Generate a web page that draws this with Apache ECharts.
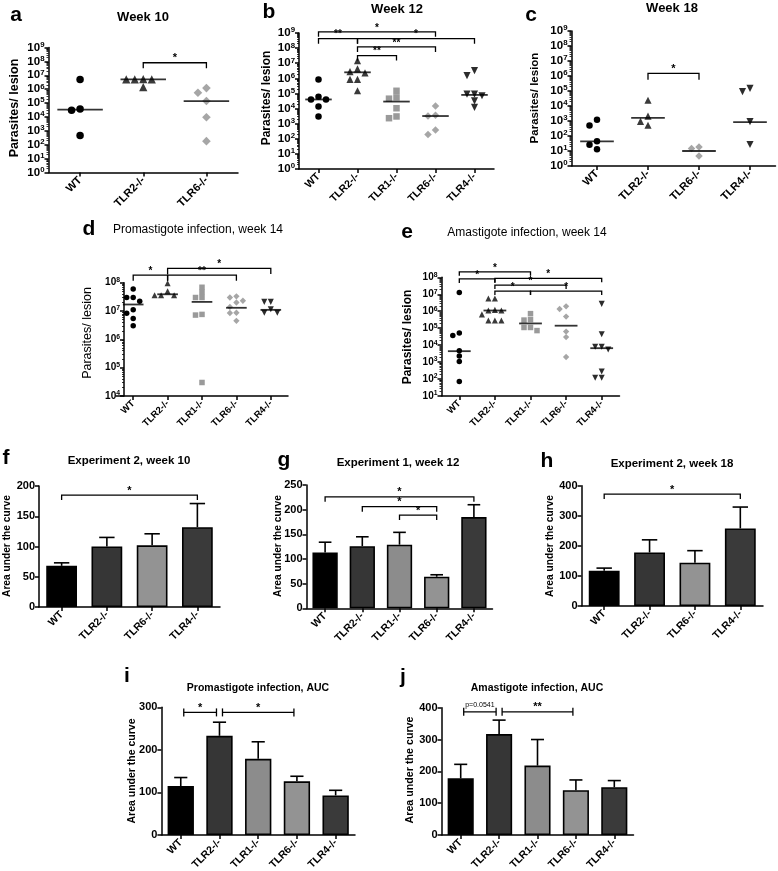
<!DOCTYPE html>
<html><head><meta charset="utf-8">
<script src="https://cdn.jsdelivr.net/npm/echarts@6/dist/echarts.min.js"></script>
<style>html,body{margin:0;padding:0;background:#fff}#c{width:778px;height:871px}</style>
</head><body><div id="c"></div>
<script>
// ---------------- DATA ----------------
// a: Week 10 (parasites / lesion)
const catsA = ['WT','TLR2-/-','TLR6-/-'];
const aWT   = [5e6, 3.8e4, 3e4, 470];
const aTLR2 = [5.2e6, 5e6, 5e6, 5e6, 1.4e6];
const aTLR6 = [1.2e6, 5.5e5, 1.4e5, 9.5e3, 180];
const aMedian = [3.4e4, 5e6, 1.4e5];
const aSig = [[1, 2, 8e7, '*']];

// b: Week 12
const catsB = ['WT','TLR2-/-','TLR1-/-','TLR6-/-','TLR4-/-'];
const bWT   = [8.5e5, 6e4, 4e4, 4e4, 1.35e4, 3e3];
const bTLR2 = [1.5e7, 4.2e6, 2.8e6, 2.3e6, 8.5e5, 8.5e5, 1.5e5];
const bTLR1 = [1.5e5, 5.5e4, 4.5e4, 1.05e4, 3e3, 2.3e3];
const bTLR6 = [1.5e4, 3.6e3, 3.2e3, 380, 195];
const bTLR4 = [3.2e6, 1.5e6, 9e4, 9e4, 7e4, 3.2e4, 1.2e4];
const bMedian = [4e4, 2.5e6, 2.9e4, 3.2e3, 8e4];
const bSig = [[0, 3, 1.2e9, '*'], [0, 1, 4.2e8, '**'], [1, 4, 4.2e8, '*'], [1, 3, 1.2e8, '**'], [1, 2, 3.2e7, '**']];

// c: Week 18
const catsC = ['WT','TLR2-/-','TLR6-/-','TLR4-/-'];
const cWT   = [1.2e3, 500, 44, 26, 13];
const cTLR2 = [2.4e4, 2.1e3, 950, 520];
const cTLR6 = [18.5, 14.5, 4.6];
const cTLR4 = [1.5e5, 9e4, 900, 27];
const cMedian = [44, 1.6e3, 10, 850];
const cSig = [[1, 2, 1.5e6, '*']];

// d: Promastigote infection, week 14
const catsD = ['WT','TLR2-/-','TLR1-/-','TLR6-/-','TLR4-/-'];
const dWT   = [6e7, 3e7, 3e7, 2.2e7, 1.1e7, 8.3e6, 5.5e6, 3e6];
const dTLR2 = [9.5e7, 5e7, 3.6e7, 3.6e7, 3.6e7];
const dTLR1 = [6.9e7, 4.6e7, 3e7, 3e7, 7.6e6, 7.2e6, 3e4];
const dTLR6 = [3.3e7, 3e7, 2.3e7, 2e7, 1.4e7, 8.7e6, 8.5e6, 4.5e6];
const dTLR4 = [2.1e7, 2.1e7, 1.15e7, 8.7e6, 8.7e6];
const dMedian = [1.7e7, 3.9e7, 2.1e7, 1.3e7, 1.1e7];
const dSig = [[0, 1, 1.85e8, '*'], [1, 3, 1.85e8, '**'], [1, 4, 3.2e8, '*']];

// e: Amastigote infection, week 14
const catsE = ['WT','TLR2-/-','TLR1-/-','TLR6-/-','TLR4-/-'];
const eWT   = [1.25e7, 5.2e4, 3.7e4, 4.6e3, 2.3e3, 1.07e3, 71];
const eTLR2 = [5.6e6, 5.6e6, 1.2e6, 1.1e6, 1.1e6, 6.5e5, 2.8e5, 2.8e5, 2.8e5];
const eTLR1 = [7.2e5, 3.2e5, 3e5, 1.1e5, 1.1e5, 7.2e4];
const eTLR6 = [1.95e6, 1.35e6, 4.8e5, 6.3e4, 3e4, 2e3];
const eTLR4 = [2.7e6, 4.4e4, 8e3, 8e3, 5.5e3, 280, 120, 120];
const eMedian = [4.4e3, 1.1e6, 1.9e5, 1.4e5, 6.6e3];
const eSig = [[0, 2, 2.1e8, '*'], [0, 1, 8e7, '*'], [1, 4, 8.7e7, '*'], [1, 3, 3.5e7, '*'], [1, 2, 1.55e7, '*'], [2, 4, 1.55e7, '*']];

// f: Experiment 2, week 10 (AUC)
const catsF = ['WT','TLR2-/-','TLR6-/-','TLR4-/-'];
const fMean  = [68, 100, 102, 132];
const fUpper = [73, 115, 121, 171];
const fSig = [[0, 3, 185, '*']];

// g: Experiment 1, week 12
const catsG = ['WT','TLR2-/-','TLR1-/-','TLR6-/-','TLR4-/-'];
const gMean  = [113, 126, 129, 64, 185];
const gUpper = [134, 145, 154, 68, 210];
const gSig = [[0, 4, 226, '*'], [1, 3, 206, '*'], [2, 3, 189, '*']];

// h: Experiment 2, week 18
const catsH = ['WT','TLR2-/-','TLR6-/-','TLR4-/-'];
const hMean  = [117, 178, 144, 258];
const hUpper = [126, 220, 184, 329];
const hSig = [[0, 3, 372, '*']];

// i: Promastigote infection, AUC
const catsI = ['WT','TLR2-/-','TLR1-/-','TLR6-/-','TLR4-/-'];
const iMean  = [115, 233, 179, 126, 93];
const iUpper = [135, 265, 219, 138, 105];
const iSig = [[0, 1, 288, '*'], [1, 3, 288, '*']];

// j: Amastigote infection, AUC
const catsJ = ['WT','TLR2-/-','TLR1-/-','TLR6-/-','TLR4-/-'];
const jMean  = [178, 317, 218, 141, 150];
const jUpper = [222, 361, 300, 173, 171];
const jSig = [[0, 1, 387, 'p=0.0541'], [1, 3, 387, '**']];

// ---------------- STYLE / LAYOUT ----------------
const FONT = '"Liberation Sans", Arial, Helvetica, sans-serif';
const MARK = {
  WT:   {symbol: 'circle',   color: '#000000', k: 1.0},
  TLR2: {symbol: 'triangle', color: '#3a3a3a', k: 1.1},
  TLR1: {symbol: 'rect',     color: '#9a9a9a', k: 1.0},
  TLR6: {symbol: 'diamond',  color: '#a6a6a6', k: 1.15},
  TLR4: {symbol: 'triangle', color: '#2c2c2c', k: 1.1, rotate: 180}
};
const BARCOL = {WT: '#000000', TLR2: '#363636', TLR1: '#8c8c8c', TLR6: '#939393', TLR4: '#3a3a3a'};

const grids = [], xAxes = [], yAxes = [], series = [], graphics = [];

function supFmt(v) { return '{b|10}{s|' + Math.round(Math.log10(v)) + '}'; }

function addAxes(p) {
  const gi = grids.length;
  grids.push({left: p.left, top: p.top, width: p.width, height: p.height, containLabel: false, outerBoundsMode: 'none'});
  xAxes.push({
    type: 'category', gridIndex: gi, data: p.cats, boundaryGap: true,
    axisLine: {show: true, onZero: false, lineStyle: {color: '#000', width: 1.5}},
    axisTick: {show: true, alignWithLabel: true, length: 4, lineStyle: {color: '#000', width: 1.5}},
    axisLabel: {rotate: 45, interval: 0, fontSize: p.catFont || 10.5, fontWeight: 'bold', color: '#000', fontFamily: FONT, margin: 6},
    splitLine: {show: false}
  });
  const ya = {
    gridIndex: gi, min: p.min, max: p.max, offset: p.yOffset || 0,
    axisLine: {show: true, lineStyle: {color: '#000', width: 1.5}},
    axisTick: {show: true, length: 4, lineStyle: {color: '#000', width: 1.5}},
    splitLine: {show: false},
    axisLabel: {color: '#000', fontFamily: FONT, fontSize: p.yFont || 11, fontWeight: 'bold', margin: 4}
  };
  if (p.log) {
    const fs = p.yFont || 11.5;
    ya.type = 'log'; ya.logBase = 10; ya.interval = 1;
    ya.splitNumber = Math.round(Math.log10(p.max) - Math.log10(p.min));
    ya.minorTick = {show: true, splitNumber: 9, length: 2, lineStyle: {color: '#000', width: 0.8}};
    ya.axisLabel.formatter = supFmt;
    ya.axisLabel.rich = {
      b: {fontSize: fs, fontWeight: 'bold', fontFamily: FONT, color: '#000', lineHeight: fs + 2},
      s: {fontSize: fs * 0.68, fontWeight: 'bold', fontFamily: FONT, color: '#000', verticalAlign: 'top', lineHeight: fs * 0.7}
    };
  } else {
    ya.type = 'value'; ya.interval = p.interval;
  }
  yAxes.push(ya);
  return gi;
}

function pxPer(p) {
  return p.log ? p.height / (Math.log10(p.max) - Math.log10(p.min)) : p.height / (p.max - p.min);
}

// simple beeswarm: horizontal offsets (px) so that markers do not overlap
function swarm(vals, p, size) {
  const per = pxPer(p);
  const placed = [], out = [];
  const order = [0, -1, 1, -2, 2, -3, 3, -4, 4];
  vals.forEach(v => {
    const y = (p.log ? Math.log10(v) : v) * per;
    for (const k of order) {
      const dx = k * (size + 1);
      if (placed.every(q => Math.abs(q[0] - dx) >= size || Math.abs(q[1] - y) >= size * 0.9)) {
        placed.push([dx, y]); out.push(dx); break;
      }
    }
  });
  return out;
}

function txt(s, x, y, font, opts) {
  opts = opts || {};
  graphics.push({
    type: 'text', x: x, y: y, rotation: opts.rot || 0, silent: true,
    style: {text: s, font: font, fill: '#000', align: 'center', verticalAlign: 'middle', textAlign: 'center', textVerticalAlign: 'middle'}
  });
}

function bracketSeries(gi, list, o) {
  return {
    type: 'custom', xAxisIndex: gi, yAxisIndex: gi, silent: true, animation: false, clip: false, z: 10,
    encode: {x: 0, y: 2},
    data: list.map(b => [b[0], b[1], b[2]]),
    renderItem: function (params, api) {
      const b = list[params.dataIndex];
      const p1 = api.coord([b[0], b[2]]);
      const p2 = api.coord([b[1], b[2]]);
      const y = p1[1];
      const x1 = p1[0] + (o.inset || 0), x2 = p2[0] - (o.inset || 0);
      const ls = {stroke: '#000', lineWidth: 1.3, fill: null};
      const ch = [];
      if (o.cap) {
        ch.push({type: 'line', shape: {x1: x1, y1: y, x2: x2, y2: y}, style: ls});
        ch.push({type: 'line', shape: {x1: x1, y1: y - o.tick, x2: x1, y2: y + o.tick}, style: ls});
        ch.push({type: 'line', shape: {x1: x2, y1: y - o.tick, x2: x2, y2: y + o.tick}, style: ls});
      } else {
        ch.push({type: 'polyline', shape: {points: [[x1, y + o.tick], [x1, y], [x2, y], [x2, y + o.tick]]}, style: ls});
      }
      const small = b[3].length > 3;
      ch.push({
        type: 'text', x: (x1 + x2) / 2, y: small ? y - 3 : y + 1,
        style: {text: b[3], font: small ? 'normal 7px ' + FONT : 'bold ' + (o.star || 11) + 'px ' + FONT, fill: '#000',
          align: 'center', verticalAlign: 'bottom', textAlign: 'center', textVerticalAlign: 'bottom'}
      });
      return {type: 'group', children: ch};
    }
  };
}

function scatterPanel(p, groups, kinds, medians, sig) {
  const gi = addAxes(p);
  const band = p.width / p.cats.length;
  groups.forEach((vals, ci) => {
    const m = MARK[kinds[ci]];
    const size = p.msize * m.k;
    const offs = swarm(vals, p, p.msize);
    series.push({
      type: 'scatter', xAxisIndex: gi, yAxisIndex: gi, silent: true, animation: false, z: 3,
      symbol: m.symbol, symbolSize: size, symbolRotate: m.rotate || 0,
      itemStyle: {color: m.color, opacity: 1},
      data: vals.map((v, k) => ({value: [ci, v], symbolOffset: [offs[k], 0]}))
    });
  });
  series.push({
    type: 'scatter', xAxisIndex: gi, yAxisIndex: gi, silent: true, animation: false, z: 4,
    symbol: 'rect', symbolSize: [band * p.medFrac, 1.8], itemStyle: {color: '#000'},
    data: medians.map((m, i) => [i, m])
  });
  series.push(bracketSeries(gi, sig, {tick: p.tick, star: p.star}));
}

function barPanel(p, means, uppers, kinds, sig, bopt) {
  const gi = addAxes(p);
  const band = p.width / p.cats.length;
  series.push({
    type: 'bar', xAxisIndex: gi, yAxisIndex: gi, silent: true, animation: false, z: 2,
    barWidth: '68%',
    itemStyle: {borderColor: '#000', borderWidth: 1.6},
    data: means.map((v, i) => ({value: v, itemStyle: {color: BARCOL[kinds[i]], borderColor: '#000', borderWidth: 1.6}}))
  });
  const capW = band * 0.68 * 0.5;
  series.push({
    type: 'custom', xAxisIndex: gi, yAxisIndex: gi, silent: true, animation: false, z: 3, clip: false,
    encode: {x: 0, y: [1, 2]},
    data: means.map((m, i) => [i, m, uppers[i]]),
    renderItem: function (params, api) {
      const i = params.dataIndex;
      const p0 = api.coord([i, means[i]]), p1 = api.coord([i, uppers[i]]);
      const ls = {stroke: '#000', lineWidth: 1.6};
      return {type: 'group', children: [
        {type: 'line', shape: {x1: p0[0], y1: p0[1], x2: p1[0], y2: p1[1]}, style: ls},
        {type: 'line', shape: {x1: p1[0] - capW / 2, y1: p1[1], x2: p1[0] + capW / 2, y2: p1[1]}, style: ls}
      ]};
    }
  });
  series.push(bracketSeries(gi, sig, bopt));
}

// ---------------- PANELS ----------------
scatterPanel({left: 48.5, top: 47.5, width: 189.5, height: 125, log: true, min: 1, max: 1e9, cats: catsA,
  msize: 7.5, medFrac: 0.72, tick: 5.5, star: 11, catFont: 11},
  [aWT, aTLR2, aTLR6], ['WT', 'TLR2', 'TLR6'], aMedian, aSig);
scatterPanel({left: 299, top: 33, width: 195, height: 136, log: true, min: 1, max: 1e9, cats: catsB,
  msize: 6.5, medFrac: 0.68, tick: 5, star: 10, catFont: 10.5},
  [bWT, bTLR2, bTLR1, bTLR6, bTLR4], ['WT', 'TLR2', 'TLR1', 'TLR6', 'TLR4'], bMedian, bSig);
scatterPanel({left: 571.5, top: 31, width: 204, height: 135, log: true, min: 1, max: 1e9, cats: catsC,
  msize: 6.5, medFrac: 0.66, tick: 6.5, star: 11, catFont: 11},
  [cWT, cTLR2, cTLR6, cTLR4], ['WT', 'TLR2', 'TLR6', 'TLR4'], cMedian, cSig);
scatterPanel({left: 116, top: 282.7, width: 172, height: 113.3, log: true, min: 1e4, max: 1e8, cats: catsD, yOffset: -8,
  msize: 5.5, medFrac: 0.6, tick: 5.5, star: 10, catFont: 9.5, yFont: 10},
  [dWT, dTLR2, dTLR1, dTLR6, dTLR4], ['WT', 'TLR2', 'TLR1', 'TLR6', 'TLR4'], dMedian, dSig);
scatterPanel({left: 441.5, top: 277.3, width: 178, height: 118.7, log: true, min: 10, max: 1e8, cats: catsE,
  msize: 5.5, medFrac: 0.64, tick: 4, star: 10, catFont: 9.5, yFont: 10},
  [eWT, eTLR2, eTLR1, eTLR6, eTLR4], ['WT', 'TLR2', 'TLR1', 'TLR6', 'TLR4'], eMedian, eSig);

barPanel({left: 39, top: 486, width: 181, height: 121, min: 0, max: 200, interval: 50, cats: catsF, catFont: 10.5},
  fMean, fUpper, ['WT', 'TLR2', 'TLR6', 'TLR4'], fSig, {tick: 5, star: 11});
barPanel({left: 306.5, top: 485, width: 186, height: 123.3, min: 0, max: 250, interval: 50, cats: catsG, catFont: 10.5},
  gMean, gUpper, ['WT', 'TLR2', 'TLR1', 'TLR6', 'TLR4'], gSig, {tick: 5, star: 11});
barPanel({left: 581.5, top: 485.7, width: 181.5, height: 120.3, min: 0, max: 400, interval: 100, cats: catsH, catFont: 10.5},
  hMean, hUpper, ['WT', 'TLR2', 'TLR6', 'TLR4'], hSig, {tick: 5, star: 11});
barPanel({left: 161.4, top: 707.3, width: 193.6, height: 127.7, min: 0, max: 300, interval: 100, cats: catsI, catFont: 10.5},
  iMean, iUpper, ['WT', 'TLR2', 'TLR1', 'TLR6', 'TLR4'], iSig, {tick: 4, star: 11, cap: true, inset: 3});
barPanel({left: 441.5, top: 707.7, width: 192, height: 127.3, min: 0, max: 400, interval: 100, cats: catsJ, catFont: 10.5},
  jMean, jUpper, ['WT', 'TLR2', 'TLR1', 'TLR6', 'TLR4'], jSig, {tick: 4, star: 11, cap: true, inset: 3});

// ---------------- TEXT ----------------
const LET = 'bold 21px ' + FONT;
txt('a', 16, 15, LET); txt('b', 269, 12, LET); txt('c', 531, 15, LET);
txt('d', 89, 229, LET); txt('e', 407, 232, LET);
txt('f', 6, 458, LET); txt('g', 284, 460, LET); txt('h', 547, 461, LET);
txt('i', 127, 676, LET); txt('j', 403, 677, LET);

txt('Week 10', 143, 17, 'bold 13px ' + FONT);
txt('Week 12', 397, 9, 'bold 13px ' + FONT);
txt('Week 18', 672, 8, 'bold 13px ' + FONT);
txt('Promastigote infection, week 14', 198, 230, 'normal 12px ' + FONT);
txt('Amastigote infection, week 14', 527, 233, 'normal 12px ' + FONT);
txt('Experiment 2, week 10', 129, 461, 'bold 11.5px ' + FONT);
txt('Experiment 1, week 12', 398, 463, 'bold 11.5px ' + FONT);
txt('Experiment 2, week 18', 672, 464, 'bold 11.5px ' + FONT);
txt('Promastigote infection, AUC', 258, 688, 'bold 10.5px ' + FONT);
txt('Amastigote infection, AUC', 537, 688, 'bold 10.5px ' + FONT);

const R = Math.PI / 2;
txt('Parasites/ lesion', 15, 108, 'bold 12.5px ' + FONT, {rot: R});
txt('Parasites/ lesion', 267, 98, 'bold 12px ' + FONT, {rot: R});
txt('Parasites/ lesion', 535, 98, 'bold 11.5px ' + FONT, {rot: R});
txt('Parasites/ lesion', 88, 333, 'normal 12.5px ' + FONT, {rot: R});
txt('Parasites/ lesion', 408, 337, 'bold 12px ' + FONT, {rot: R});
txt('Area under the curve', 7, 546, 'bold 10.2px ' + FONT, {rot: R});
txt('Area under the curve', 278, 546, 'bold 10.2px ' + FONT, {rot: R});
txt('Area under the curve', 550, 546, 'bold 10.2px ' + FONT, {rot: R});
txt('Area under the curve', 132, 771, 'bold 10.5px ' + FONT, {rot: R});
txt('Area under the curve', 410, 770, 'bold 10.7px ' + FONT, {rot: R});

const chart = echarts.init(document.getElementById('c'), null, {renderer: 'canvas'});
chart.setOption({
  animation: false,
  backgroundColor: '#ffffff',
  textStyle: {fontFamily: FONT, color: '#000'},
  grid: grids, xAxis: xAxes, yAxis: yAxes, series: series,
  graphic: {elements: graphics}
});
</script>
</body></html>
